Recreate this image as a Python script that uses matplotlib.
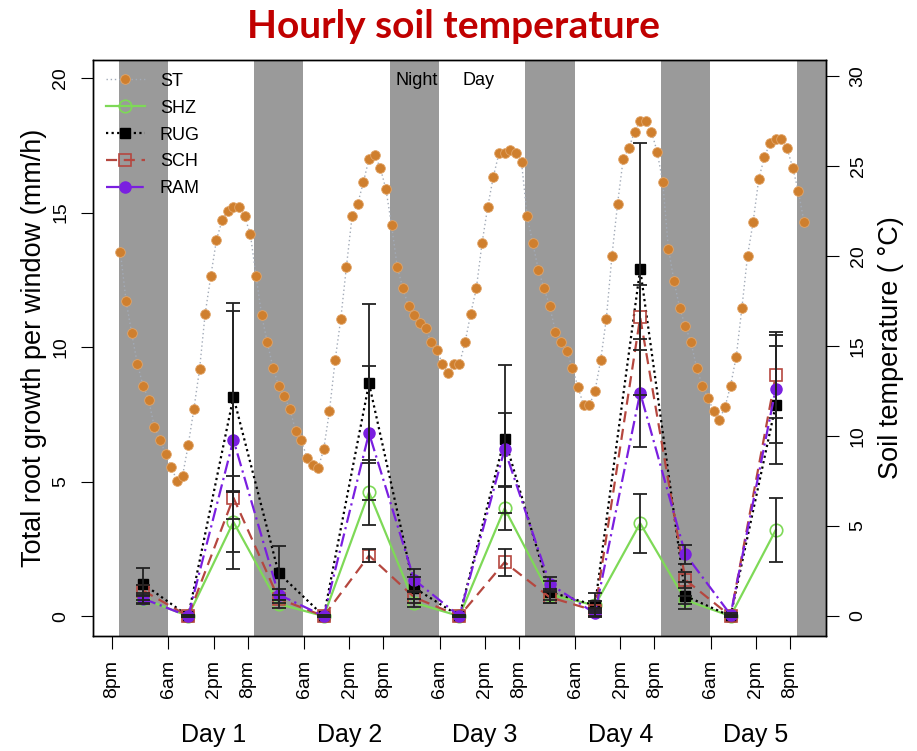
import numpy as np
import matplotlib
matplotlib.use('Agg')
import matplotlib.pyplot as plt
from matplotlib.transforms import blended_transform_factory

plt.rcParams['font.family'] = ['Liberation Sans', 'DejaVu Sans']

# hourly soil temperature (deg C), first reading ~21:30 the evening before day 1
st_temp = [20.2, 17.5, 15.7, 14.0, 12.8, 12.0, 10.5, 9.8, 9.0, 8.3, 7.5, 7.8,
           9.5, 11.5, 13.7, 16.8, 18.9, 20.9, 22.0, 22.5, 22.7, 22.7, 22.2, 21.2,
           18.9, 16.7, 15.2, 13.8, 12.8, 12.2, 11.5, 10.3, 9.8, 8.8, 8.4, 8.2,
           9.3, 11.4, 14.2, 16.5, 19.4, 22.2, 22.9, 24.1, 25.4, 25.6, 24.9, 23.7,
           21.7, 19.4, 18.2, 17.2, 16.7, 16.3, 16.0, 15.2, 14.8, 14.0, 13.5, 14.0,
           14.0, 15.2, 16.8, 18.2, 20.7, 22.7, 24.4, 25.7, 25.7, 25.9, 25.7, 25.2,
           22.2, 20.7, 19.2, 18.2, 17.2, 15.8, 15.2, 14.7, 13.8, 12.7, 11.7, 11.7,
           12.5, 14.2, 16.5, 20.0, 22.9, 25.4, 26.0, 26.9, 27.5, 27.5, 26.9, 25.8,
           24.1, 20.4, 18.6, 17.1, 16.1, 15.2, 13.8, 12.8, 12.1, 11.4, 10.9, 11.6,
           12.8, 14.4, 17.1, 20.0, 21.9, 24.3, 25.5, 26.3, 26.5, 26.5, 26.0, 24.9,
           23.6, 21.9]
st_start = -2.5  # hours relative to midnight starting day 1

# root growth windows (centre hour relative to midnight starting day 1)
win_hours = [1.5, 9.5, 17.5, 25.5, 33.5, 41.5, 49.5, 57.5, 65.5, 73.5, 81.5, 89.5, 97.5, 105.5, 113.5]

shz = [0.65, 0.0, 3.5, 0.45, 0.0, 4.6, 0.5, 0.0, 4.0, 0.8, 0.4, 3.45, 0.6, 0.0, 3.2]
shz_err = [0.2, 0.05, 1.1, 0.15, 0.05, 1.2, 0.15, 0.05, 0.8, 0.2, 0.15, 1.1, 0.15, 0.05, 1.2]
rug = [1.2, 0.0, 8.15, 1.6, 0.0, 8.65, 1.05, 0.0, 6.6, 0.9, 0.4, 12.9, 0.75, 0.0, 7.85]
rug_err = [0.6, 0.05, 3.5, 1.0, 0.05, 2.95, 0.4, 0.05, 2.75, 0.4, 0.45, 4.7, 0.5, 0.05, 2.2]
sch = [0.95, 0.0, 4.4, 0.65, 0.0, 2.25, 0.7, 0.0, 2.0, 0.7, 0.2, 11.1, 1.35, 0.0, 8.95]
sch_err = [0.2, 0.05, 0.8, 0.15, 0.05, 0.25, 0.2, 0.05, 0.5, 0.2, 0.1, 1.2, 0.3, 0.05, 1.6]
ram = [0.65, 0.0, 6.55, 0.8, 0.0, 6.8, 1.35, 0.0, 6.2, 1.2, 0.1, 8.3, 2.3, 0.05, 8.45]
ram_err = [0.15, 0.05, 4.8, 0.2, 0.05, 2.5, 0.4, 0.05, 1.35, 0.25, 0.1, 2.0, 0.35, 0.05, 2.0]

# night shading (hours)
night_start = [-2.8, 21.2, 45.2, 69.2, 93.2, 117.2]
night_end = [5.9, 29.9, 53.9, 77.9, 101.9, 125.9]

tick_hours = [-4, 6, 14, 20, 30, 38, 44, 54, 62, 68, 78, 86, 92, 102, 110, 116]
tick_labels = ['8pm', '6am', '2pm', '8pm', '6am', '2pm', '8pm', '6am', '2pm', '8pm',
               '6am', '2pm', '8pm', '6am', '2pm', '8pm']
day_hours = [14, 38, 62, 86, 110]
day_labels = ['Day 1', 'Day 2', 'Day 3', 'Day 4', 'Day 5']

fig = plt.figure(figsize=(9.17, 7.51), dpi=100)
ax = fig.add_axes([0.1014, 0.1531, 0.7994, 0.767])
ax2 = ax.twinx()
ax.set_zorder(ax2.get_zorder() + 1)
ax.patch.set_visible(False)

for s, e in zip(night_start, night_end):
    ax2.axvspan(s, e, color='#9a9a9a', lw=0, zorder=0)

st_hours = st_start + np.arange(len(st_temp))
st_line, = ax2.plot(st_hours, st_temp, linestyle=(0, (1, 2)), color='#a3abb8', lw=1.0,
                    marker='o', ms=7, mfc='#cf7f2e', mec='#e2a66a', mew=0.6, label='ST')

shz_line, = ax.plot(win_hours, shz, color='#7ed957', lw=1.6, marker='o', ms=9,
                    mfc='none', mec='#7ed957', mew=1.2, label='SHZ', zorder=3)
rug_line, = ax.plot(win_hours, rug, color='black', lw=1.6, linestyle=(0, (1, 1.5)),
                    marker='s', ms=7, label='RUG', zorder=3)
sch_line, = ax.plot(win_hours, sch, color='#b5473f', lw=1.6, linestyle=(0, (5, 3)),
                    marker='s', ms=8, mfc='none', mec='#b5473f', mew=1.2, label='SCH', zorder=3)
ram_line, = ax.plot(win_hours, ram, color='#7a1fe0', lw=1.6, linestyle=(0, (6, 2, 1, 2)),
                    marker='o', ms=8, label='RAM', zorder=3)

for vals, err in [(shz, shz_err), (rug, rug_err), (sch, sch_err), (ram, ram_err)]:
    ax.errorbar(win_hours, vals, yerr=err, fmt='none', ecolor='#222222',
                elinewidth=1.3, capsize=5, capthick=1.3, zorder=4)

ax.set_xlim(-7.36, 122.4)
ax.set_ylim(-0.74, 20.67)
ax2.set_ylim(-1.11, 30.89)

ax.set_yticks([0, 5, 10, 15, 20])
ax2.set_yticks([0, 5, 10, 15, 20, 25, 30])
ax.set_xticks(tick_hours)
ax.set_xticklabels(tick_labels)
ax.tick_params(axis='x', direction='out', length=9, labelsize=14, labelrotation=90, pad=8)
ax.tick_params(axis='y', direction='out', length=9, labelsize=14, labelrotation=90, pad=8)
ax2.tick_params(axis='y', direction='out', length=9, labelsize=14, labelrotation=90, pad=8)
for lab in ax.get_yticklabels() + ax2.get_yticklabels():
    lab.set_va('center')

for sp in list(ax.spines.values()) + list(ax2.spines.values()):
    sp.set_linewidth(1.0)
    sp.set_color('black')

ax.set_ylabel('Total root growth per window (mm/h)', fontsize=19.5, labelpad=4)
ax2.set_ylabel('Soil temperature ( °C)', fontsize=19.5, labelpad=8)

trans = blended_transform_factory(ax.transData, ax.transAxes)
for h, lab in zip(day_hours, day_labels):
    ax.text(h, -0.172, lab, transform=trans, ha='center', va='center', fontsize=18)

ax.text(50.0, 19.9, 'Night', ha='center', va='center', fontsize=13)
ax.text(60.8, 19.9, 'Day', ha='center', va='center', fontsize=13)

ax.legend(handles=[st_line, shz_line, rug_line, sch_line, ram_line], loc='upper left',
          bbox_to_anchor=(0.0, 1.0), frameon=False, fontsize=13, labelspacing=0.55,
          handlelength=2.2, handletextpad=0.8, borderaxespad=0.3)

fig.text(0.495, 0.965, 'Hourly soil temperature', ha='center', va='center',
         fontsize=28, fontweight='bold', color='#c00000', family=['Lato', 'DejaVu Sans'])

fig.savefig('out.png', dpi=100)
